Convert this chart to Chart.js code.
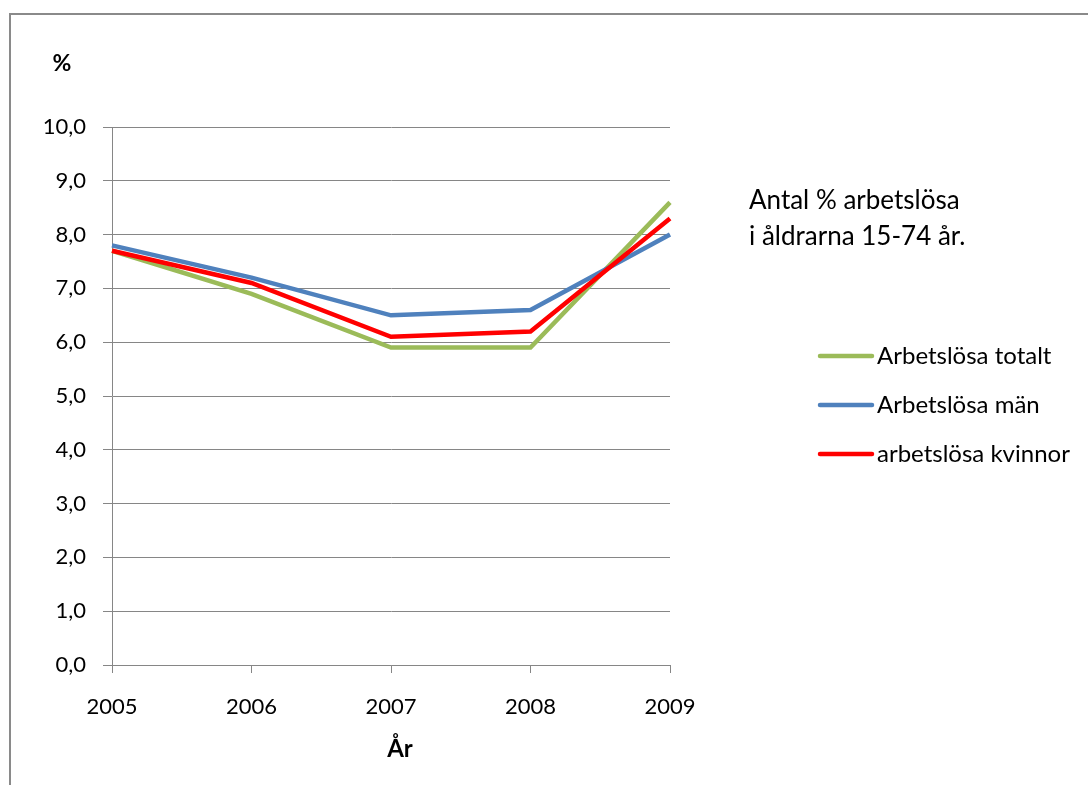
<!DOCTYPE html>
<html lang="sv">
<head>
<meta charset="utf-8">
<script src="https://cdn.jsdelivr.net/npm/chart.js@4/dist/chart.umd.min.js"></script>
<style>
  html, body { margin: 0; padding: 0; background: #ffffff; }
  #wrap { width: 1088px; height: 785px; position: relative; }
</style>
</head>
<body>
<div id="wrap"><canvas id="c" width="1088" height="785"></canvas></div>
<script>
// Arbetslöshet i åldrarna 15-74 år, procent
const years = ['2005', '2006', '2007', '2008', '2009'];
const totalt = [7.7, 6.9, 5.9, 5.9, 8.6];
const man = [7.8, 7.2, 6.5, 6.6, 8.0];
const kvinnor = [7.7, 7.1, 6.1, 6.2, 8.3];
const seriesNames = ['Arbetslösa totalt', 'Arbetslösa män', 'arbetslösa kvinnor'];
const seriesColors = ['#9BBB59', '#4F81BD', '#FF0000'];
const yTicks = [0, 1, 2, 3, 4, 5, 6, 7, 8, 9, 10];

const FONT = 'Lato, "Open Sans", sans-serif';
const GRID = '#868686';

// Frame, unit label, axis title, note text and legend
const decorations = {
  id: 'decorations',
  afterDraw(chart) {
    const ctx = chart.ctx;
    const area = chart.chartArea;
    ctx.save();
    // outer frame (top and left edges)
    ctx.strokeStyle = '#8a8a8a';
    ctx.lineWidth = 2;
    ctx.beginPath();
    ctx.moveTo(10, 785);
    ctx.lineTo(10, 14);
    ctx.lineTo(1088, 14);
    ctx.stroke();

    ctx.fillStyle = '#000000';
    ctx.textBaseline = 'middle';
    ctx.textAlign = 'center';
    ctx.font = 'bold 23px ' + FONT;
    ctx.fillText('%', 62, 64);
    ctx.font = 'bold 24px ' + FONT;
    ctx.fillText('År', (area.left + area.right) / 2 + 9, 749);

    ctx.textAlign = 'left';
    ctx.font = '26px ' + FONT;
    ctx.fillText('Antal % arbetslösa', 749, 201);
    ctx.fillText('i åldrarna 15-74 år.', 749, 237);

    // legend
    ctx.font = '24px ' + FONT;
    chart.data.datasets.forEach((ds, i) => {
      const y = 356 + i * 49;
      ctx.strokeStyle = ds.borderColor;
      ctx.lineWidth = 4.5;
      ctx.lineCap = 'round';
      ctx.beginPath();
      ctx.moveTo(820, y);
      ctx.lineTo(872, y);
      ctx.stroke();
      ctx.fillStyle = '#000000';
      ctx.fillText(ds.label, 877, y);
    });
    ctx.restore();
  }
};

const data = {
  labels: years,
  datasets: [totalt, man, kvinnor].map((vals, i) => ({
    label: seriesNames[i],
    data: vals,
    borderColor: seriesColors[i],
    backgroundColor: seriesColors[i],
    borderWidth: 4.5,
    pointRadius: 0,
    tension: 0,
    order: 3 - i
  }))
};

new Chart(document.getElementById('c'), {
  type: 'line',
  data: data,
  options: {
    responsive: false,
    animation: false,
    layout: { padding: { left: 0, right: 418, top: 127, bottom: 60 } },
    plugins: {
      legend: { display: false },
      tooltip: { enabled: false },
      title: { display: false }
    },
    scales: {
      x: {
        offset: false,
        grid: { display: true, drawOnChartArea: false, drawTicks: true, tickLength: 8, color: GRID },
        border: { display: true, color: GRID, width: 1 },
        ticks: { color: '#000000', padding: 21, font: { family: FONT, size: 22 }, maxRotation: 0, autoSkip: false },
        afterFit(scale) { scale.height = 60; }
      },
      y: {
        min: 0,
        max: 10,
        afterBuildTicks(scale) { scale.ticks = yTicks.map(v => ({ value: v })); },
        grid: { color: GRID, lineWidth: 1, tickLength: 9, drawTicks: true },
        border: { display: true, color: GRID, width: 1 },
        ticks: {
          color: '#000000',
          padding: 17,
          font: { family: FONT, size: 22 },
          callback: v => Number(v).toFixed(1).replace('.', ',')
        },
        afterFit(scale) { scale.width = 112; }
      }
    }
  },
  plugins: [decorations]
});
</script>
</body>
</html>
